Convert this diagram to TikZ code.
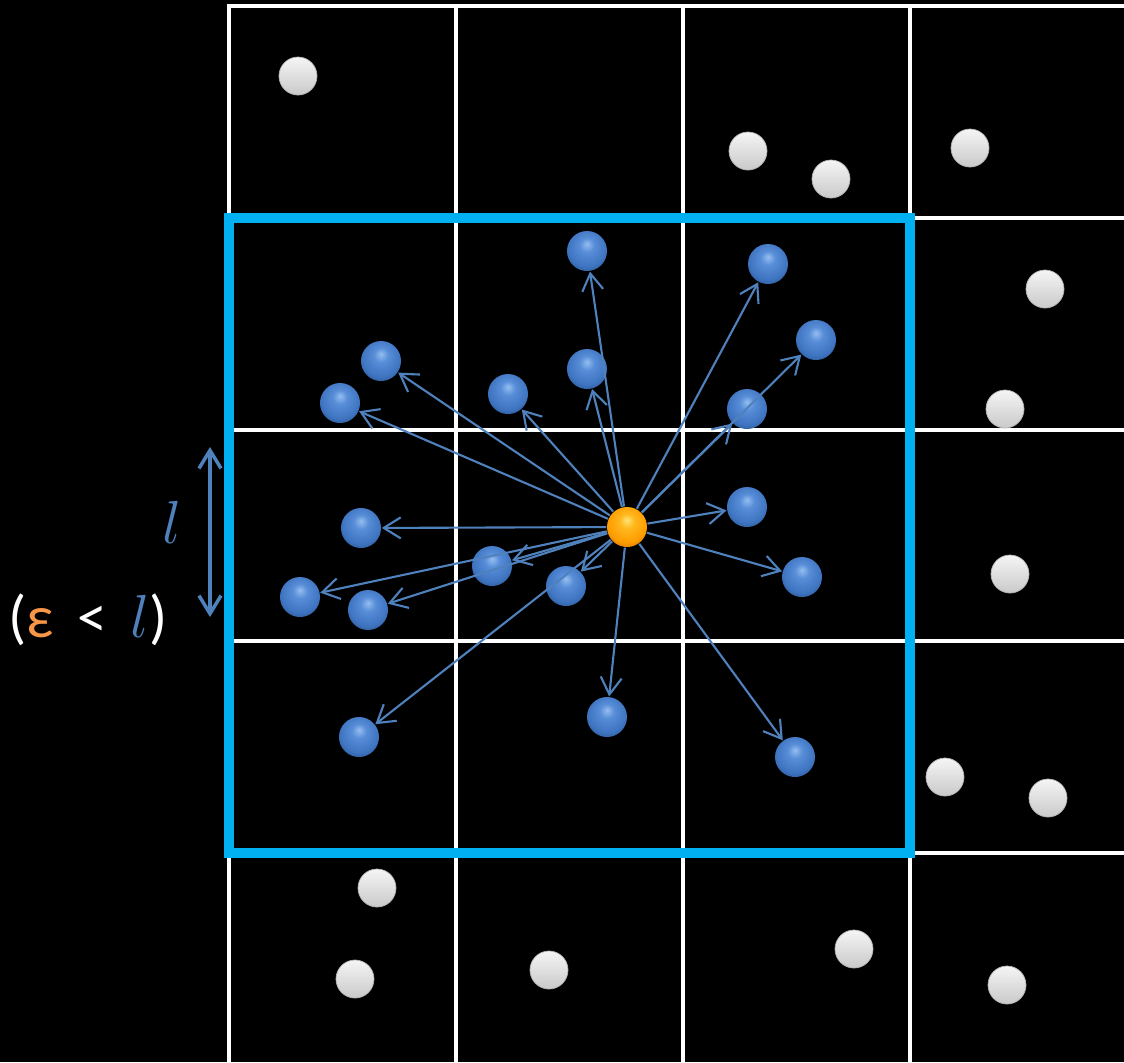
\documentclass[tikz,border=0pt]{standalone}
\usepackage{fontspec}
\setmainfont{Carlito}
\usetikzlibrary{arrows.meta}

\definecolor{boxblue}{HTML}{00B0F0}
\definecolor{linkblue}{HTML}{4F81BD}
\definecolor{epsorange}{HTML}{F79646}

\pgfdeclareradialshading{blueglass}{\pgfpoint{0bp}{9bp}}{%
  color(0bp)=(rgb,255:red,150;green,190;blue,240);
  color(9bp)=(rgb,255:red,88;green,142;blue,216);
  color(24bp)=(rgb,255:red,62;green,116;blue,192);
  color(32bp)=(rgb,255:red,44;green,88;blue,150);
  color(50bp)=(rgb,255:red,44;green,88;blue,150)}
\pgfdeclareradialshading{orangeglass}{\pgfpoint{0bp}{9bp}}{%
  color(0bp)=(rgb,255:red,255;green,230;blue,120);
  color(9bp)=(rgb,255:red,255;green,184;blue,30);
  color(24bp)=(rgb,255:red,255;green,156;blue,0);
  color(32bp)=(rgb,255:red,214;green,118;blue,0);
  color(50bp)=(rgb,255:red,214;green,118;blue,0)}

\tikzset{
  gridline/.style={white,line width=0.9pt},
  cutbox/.style={boxblue,line width=3.1pt},
  blueball/.style={circle,minimum size=0.4cm,inner sep=0pt,shading=blueglass},
  greyball/.style={circle,minimum size=0.38cm,inner sep=0pt,top color=gray!8,bottom color=gray!42,draw=gray!60,line width=0.2pt},
  coreball/.style={circle,minimum size=0.4cm,inner sep=0pt,shading=orangeglass},
  pull/.style={linkblue,line width=0.6pt,-{Straight Barb[length=1.7mm,width=2.1mm]}},
}

\begin{document}
\begin{tikzpicture}[x=0.01cm,y=-0.01cm]
\fill[black] (0,0) rectangle (1124,1062);
\useasboundingbox (0,0) rectangle (1124,1062);

% cells
\draw[gridline] (229,1062) -- (229,6) -- (1124,6);
\draw[gridline] (456,6) -- (456,1062);
\draw[gridline] (683,6) -- (683,1062);
\draw[gridline] (910,6) -- (910,1062);
\draw[gridline] (229,218) -- (1124,218);
\draw[gridline] (229,430) -- (1124,430);
\draw[gridline] (229,641) -- (1124,641);
\draw[gridline] (229,853) -- (1124,853);

% cut-off box
\draw[cutbox] (229,218) rectangle (910,853);

% particles outside the cut-off
\node[greyball] (w1) at (298,76) {};
\node[greyball] (w2) at (748,151) {};
\node[greyball] (w3) at (831,179) {};
\node[greyball] (w4) at (970,148) {};
\node[greyball] (w5) at (1045,289) {};
\node[greyball] (w6) at (1005,409) {};
\node[greyball] (w7) at (1010,574) {};
\node[greyball] (w8) at (945,777) {};
\node[greyball] (w9) at (1048,798) {};
\node[greyball] (w10) at (377,888) {};
\node[greyball] (w11) at (355,979) {};
\node[greyball] (w12) at (549,970) {};
\node[greyball] (w13) at (854,949) {};
\node[greyball] (w14) at (1007,985) {};

% neighbours
\node[blueball] (b1) at (587,251) {};
\node[blueball] (b2) at (768,264) {};
\node[blueball] (b3) at (816,340) {};
\node[blueball] (b4) at (381,361) {};
\node[blueball] (b5) at (340,403) {};
\node[blueball] (b6) at (508,394) {};
\node[blueball] (b7) at (587,369) {};
\node[blueball] (b8) at (747,409) {};
\node[blueball] (b9) at (361,528) {};
\node[blueball] (b10) at (747,507) {};
\node[blueball] (b11) at (492,566) {};
\node[blueball] (b12) at (566,586) {};
\node[blueball] (b13) at (300,597) {};
\node[blueball] (b14) at (368,610) {};
\node[blueball] (b15) at (802,577) {};
\node[blueball] (b16) at (359,737) {};
\node[blueball] (b17) at (607,717) {};
\node[blueball] (b18) at (795,757) {};

\node[coreball] (core) at (627,527) {};

% forces
\draw[pull] (core) -- (b1);
\draw[pull] (core) -- (b2);
\draw[pull] (core) -- (b3);
\draw[pull] (core) -- (b4);
\draw[pull] (core) -- (b5);
\draw[pull] (core) -- (b6);
\draw[pull] (core) -- (b7);
\draw[pull] (core) -- (b8);
\draw[pull] (core) -- (b9);
\draw[pull] (core) -- (b10);
\draw[pull] (core) -- (b11);
\draw[pull] (core) -- (b12);
\draw[pull] (core) -- (b13);
\draw[pull] (core) -- (b14);
\draw[pull] (core) -- (b15);
\draw[pull] (core) -- (b16);
\draw[pull] (core) -- (b17);
\draw[pull] (core) -- (b18);

% cell length
\coordinate (top) at (210,447);
\coordinate (bot) at (210,617);
\draw[linkblue,line width=1pt,{Straight Barb[length=1.8mm,width=2.2mm]}-{Straight Barb[length=1.8mm,width=2.2mm]}] (top) -- (bot);
\node[text=linkblue,font=\fontsize{17}{20}\selectfont] (ell) at (172,522) {$l$};
\node[text=white,font=\fontsize{17}{20}\selectfont] (rule) at (88,620) {(\textcolor{epsorange}{ε} \,<\, \textcolor{linkblue}{$l$})};
\end{tikzpicture}
\end{document}
